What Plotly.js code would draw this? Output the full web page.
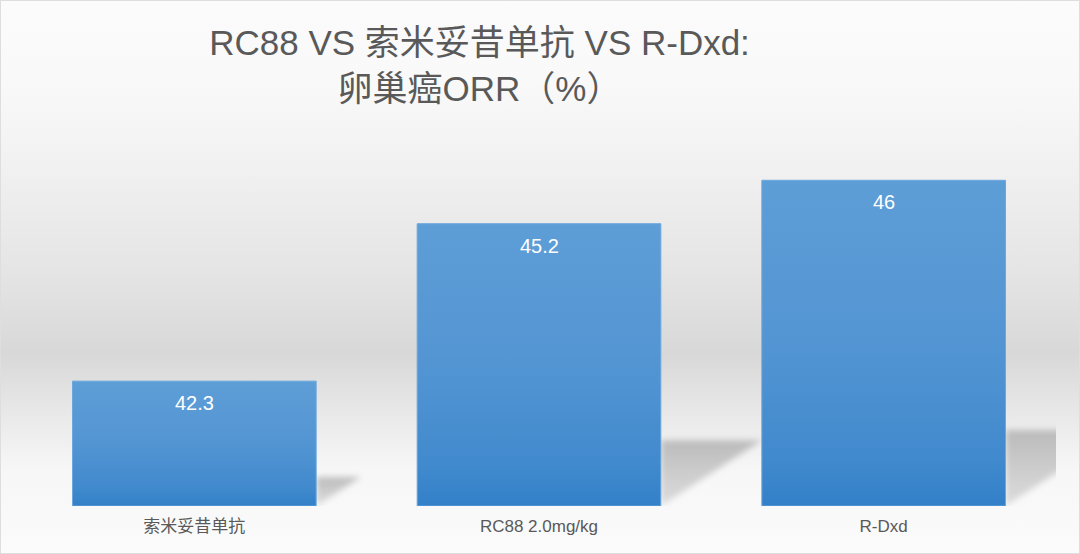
<!DOCTYPE html>
<html><head><meta charset="utf-8">
<script src="https://cdn.plot.ly/plotly-3.0.1.min.js"></script>
<style>
html,body{margin:0;padding:0;background:#fff;}
#wrap{position:relative;width:1080px;height:554px;overflow:hidden;
 background:linear-gradient(to bottom,#fbfbfb 0%,#f9f9f9 15%,#f1f1f1 30%,#e4e4e4 50%,#d8d8d8 64%,#e9e9e9 75%,#f7f7f7 85%,#fbfbfb 100%);}
#frame{position:absolute;left:0;top:0;width:1078px;height:552px;border:1px solid #dedede;pointer-events:none;}
#chart{width:1080px;height:554px;}
</style></head>
<body>
<svg width="0" height="0" style="position:absolute">
  <defs>
    <linearGradient id="barGrad" x1="0" y1="0" x2="0" y2="1">
      <stop offset="0" stop-color="#5e9ed7"/>
      <stop offset="0.5" stop-color="#5395d3"/>
      <stop offset="0.85" stop-color="#418acd"/>
      <stop offset="1" stop-color="#3380c9"/>
    </linearGradient>
    <linearGradient id="shGrad" x1="0" y1="0" x2="0" y2="1">
      <stop offset="0" stop-color="#b8b8b8" stop-opacity="0.95"/>
      <stop offset="1" stop-color="#c8c8c8" stop-opacity="0.6"/>
    </linearGradient>
    <filter id="shBlur" x="-20%" y="-30%" width="140%" height="160%">
      <feGaussianBlur stdDeviation="3"/>
    </filter>
  </defs>
</svg>
<div id="wrap"><div id="chart"></div><div id="frame"></div></div>
<script>
const categories = ['索米妥昔单抗', 'RC88 2.0mg/kg', 'R-Dxd'];
const orrValues = [42.3, 45.2, 46];
const valueLabels = ['42.3', '45.2', '46'];
const titleText = 'RC88 VS 索米妥昔单抗 VS R-Dxd:<br>卵巢癌ORR（%）';

const yBase = 40, yTop = 47;
const bargap = 0.293;
const half = (1 - bargap) / 2;
const textColor = '#595959';
const fontFam = '"Liberation Sans", Arial, "Noto Sans CJK SC", sans-serif';

// decorative floor shadows derived from the data
const shadowK = 0.233, shadowW = 0.2419;
const shapes = orrValues.map((v, i) => {
  const h = shadowK * (v - yBase);
  const r = i + half;
  const w = h * shadowW;
  return {
    type: 'path', xref: 'x', yref: 'y', layer: 'below',
    path: `M ${r} ${yBase} L ${r} ${yBase + h} L ${r + w} ${yBase + h} Z`,
    fillcolor: '#c2c2c2', opacity: 1, line: {width: 0}
  };
});

const annotations = orrValues.map((v, i) => ({
  x: categories[i], y: v, xref: 'x', yref: 'y',
  text: valueLabels[i], showarrow: false, yanchor: 'middle', yshift: -22,
  font: {family: fontFam, size: 20, color: '#ffffff'}
}));

const trace = {
  type: 'bar', x: categories, y: orrValues.map(v => v - yBase), base: yBase,
  marker: {color: '#5093d2', line: {color: '#6ca7dd', width: 1}},
  hoverinfo: 'skip'
};

const layout = {
  width: 1080, height: 554,
  paper_bgcolor: 'rgba(0,0,0,0)', plot_bgcolor: 'rgba(0,0,0,0)',
  margin: {l: 21.5, r: 23.5, t: 126, b: 48},
  bargap: bargap,
  showlegend: false,
  title: {
    text: titleText, xref: 'container', yref: 'container',
    x: 0.444, xanchor: 'center', y: 0.90, yanchor: 'top',
    font: {family: fontFam, size: 35, color: textColor}
  },
  xaxis: {
    type: 'category', range: [-0.5, 2.5], autorange: false,
    showgrid: false, zeroline: false, showline: false,
    ticks: '', tickfont: {family: fontFam, size: 17, color: textColor},
    ticklabelstandoff: 8
  },
  yaxis: {range: [yBase, yTop], autorange: false, visible: false, showgrid: false, zeroline: false},
  shapes: shapes,
  annotations: annotations
};

function decorate(gd) {
  gd.querySelectorAll('.barlayer .point path').forEach(p => {
    p.style.fill = 'url(#barGrad)';
    p.setAttribute('fill', 'url(#barGrad)');
  });
  gd.querySelectorAll('.shapelayer path').forEach(p => {
    p.style.fill = 'url(#shGrad)';
    p.style.fillOpacity = '1';
    p.setAttribute('filter', 'url(#shBlur)');
  });
}

const gdEl = document.getElementById('chart');
Plotly.newPlot(gdEl, [trace], layout, {displayModeBar: false, staticPlot: true}).then(gd => {
  decorate(gd);
  setTimeout(() => decorate(gd), 50);
});
</script>
</body></html>
